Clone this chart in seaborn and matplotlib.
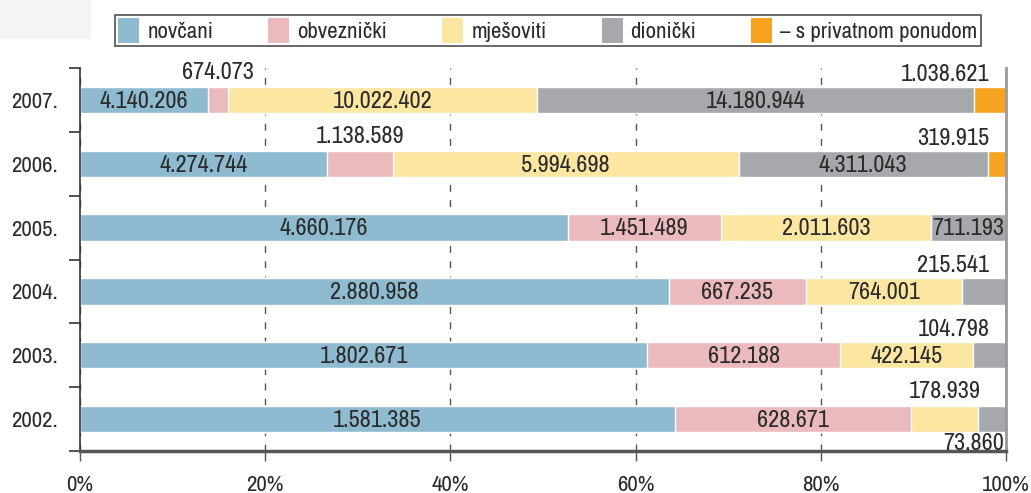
"""
Share of fund assets by fund type, 2002-2007 (100% stacked bars).
"""

import numpy as np
import pandas as pd
import matplotlib
matplotlib.use("Agg")
import matplotlib.pyplot as plt
from matplotlib import font_manager
from matplotlib.patches import Patch, Rectangle
import seaborn as sns

# --- data --------------------------------------------------------------
YEARS = ["2007.", "2006.", "2005.", "2004.", "2003.", "2002."]
CATEGORIES = ["novčani", "obveznički", "mješoviti", "dionički",
              "– s privatnom ponudom"]

NOVCANI = [4140206, 4274744, 4660176, 2880958, 1802671, 1581385]
OBVEZNICKI = [674073, 1138589, 1451489, 667235, 612188, 628671]
MJESOVITI = [10022402, 5994698, 2011603, 764001, 422145, 178939]
DIONICKI = [14180944, 4311043, 711193, 215541, 104798, 73860]
PRIVATNI = [1038621, 319915, 0, 0, 0, 0]

X_TICKS = [0, 20, 40, 60, 80, 100]

# --- style -------------------------------------------------------------
COLORS = ["#8fbbd0", "#ebbabd", "#fbe6a2", "#a7a8ab", "#f6a31f"]
TEXT = "#2b2b2b"

# where each value label goes: in = centred in segment, up = centred above,
# upr = above, right aligned near 100 %, dnr = below, right aligned
LABEL_MODE = [
    ["in", "up", "in", "in", "upr"],
    ["in", "up", "in", "in", "upr"],
    ["in", "in", "in", "in", None],
    ["in", "in", "in", "upr", None],
    ["in", "in", "in", "upr", None],
    ["in", "in", "up", "dnr", None],
]

sns.set_theme(style="white")

# pick a narrow face if one is installed (the original uses a condensed font)
fonts = font_manager.fontManager.ttflist
narrow_names = [f.name for f in fonts
                if "Narrow" in f.name or "Condensed" in f.name]
condensed_dejavu = any(f.name == "DejaVu Sans" and "Condensed" in f.fname
                       for f in fonts)
STRETCH = "normal"
if narrow_names:
    FONT = sorted(narrow_names)[0]
    FS = 16.5
elif condensed_dejavu:
    FONT = "DejaVu Sans"
    STRETCH = "condensed"
    FS = 14.5
else:
    FONT = "DejaVu Sans"
    FS = 13
FS_VAL = FS * 1.06
plt.rcParams["font.family"] = [FONT, "DejaVu Sans"]
plt.rcParams["font.stretch"] = STRETCH
plt.rcParams["text.color"] = TEXT


def fmt(v):
    return f"{v:,}".replace(",", ".")


df = pd.DataFrame(
    dict(zip(CATEGORIES, [NOVCANI, OBVEZNICKI, MJESOVITI, DIONICKI, PRIVATNI])),
    index=YEARS,
)
shares = df.div(df.sum(axis=1), axis=0) * 100
cum = shares.cumsum(axis=1)

fig = plt.figure(figsize=(10.31, 4.93), dpi=100)
fig.patches.append(Rectangle((0, 1 - 38 / 493), 90 / 1031, 38 / 493,
                             transform=fig.transFigure, color="#f4f4f4",
                             zorder=0))
ax = fig.add_axes([80 / 1031, 42 / 493, 926 / 1031, 383 / 493])

BAR_H = 0.41
# draw cumulative totals from the last category back to the first
for cat, color in reversed(list(zip(CATEGORIES, COLORS))):
    sns.barplot(x=cum[cat].values, y=YEARS, orient="h", color=color,
                width=BAR_H, saturation=1, ax=ax, zorder=2)

# value labels
for i, year in enumerate(YEARS):
    start = 0
    for j, cat in enumerate(CATEGORIES):
        share = shares.loc[year, cat]
        mode = LABEL_MODE[i][j]
        mid = start + share / 2
        start += share
        if mode is None:
            continue
        txt = fmt(df.loc[year, cat])
        if mode == "in":
            ax.text(mid, i + 0.02, txt, ha="center", va="center",
                    fontsize=FS_VAL, zorder=3)
        elif mode == "up":
            ax.text(mid, i - BAR_H / 2 - 0.06, txt, ha="center", va="bottom",
                    fontsize=FS_VAL, zorder=3)
        elif mode == "upr":
            ax.text(98.2, i - BAR_H / 2 - 0.03, txt, ha="right", va="bottom",
                    fontsize=FS_VAL, zorder=3)
        elif mode == "dnr":
            ax.text(99.8, i + BAR_H / 2 + 0.02, txt, ha="right", va="top",
                    fontsize=FS_VAL, zorder=3)

# axes
ax.set_xlim(0, 100)
ax.set_ylim(len(YEARS) - 0.5, -0.5)
ax.set_xlabel("")
ax.set_ylabel("")
ax.set_xticks(X_TICKS)
ax.set_xticklabels([f"{t}%" for t in X_TICKS], fontsize=FS)
ax.tick_params(axis="x", direction="out", length=7, width=1, color="#555555",
               pad=10, bottom=True, labelcolor=TEXT)
ax.set_yticks(range(len(YEARS)))
ax.set_yticklabels(YEARS, fontsize=FS)
ax.tick_params(axis="y", which="major", length=0, pad=16, labelcolor=TEXT)
ax.set_yticks(np.arange(len(YEARS) + 1) - 0.5, minor=True)
ax.tick_params(axis="y", which="minor", direction="out", length=8, width=1.2,
               color="#333333", left=True)

ax.xaxis.grid(True, linestyle=(0, (5, 6)), color="#555555", linewidth=1)
ax.yaxis.grid(False)
ax.set_axisbelow(True)

ax.spines["top"].set_visible(False)
ax.spines["left"].set_color("#333333")
ax.spines["left"].set_linewidth(1.2)
ax.spines["right"].set_color("#9a9a9a")
ax.spines["right"].set_linewidth(2)
ax.spines["bottom"].set_color("#555555")
ax.spines["bottom"].set_linewidth(2.5)

handles = [Patch(facecolor=c, edgecolor="none") for c in COLORS]
fs_px = FS * 100 / 72
leg = fig.legend(handles, CATEGORIES, loc="center",
                 bbox_to_anchor=(548 / 1031, 1 - 30.5 / 493), ncol=5,
                 fontsize=FS, frameon=True, fancybox=False,
                 handlelength=21 / fs_px, handleheight=1.25,
                 handletextpad=8 / fs_px, columnspacing=55 / fs_px,
                 borderpad=0.15, borderaxespad=0)
leg.get_frame().set_edgecolor("#222222")
leg.get_frame().set_linewidth(1.2)

fig.savefig("out.png", dpi=100)
